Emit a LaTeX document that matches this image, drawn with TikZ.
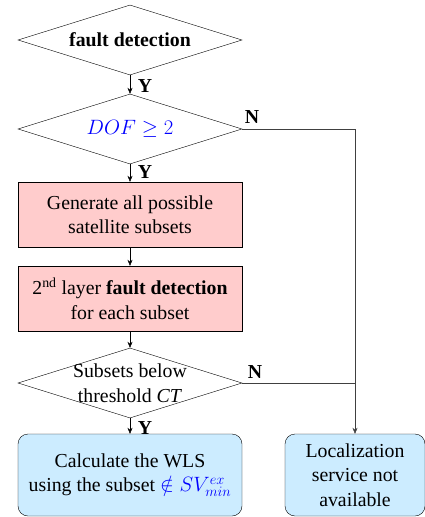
\documentclass[tikz,border=0pt]{standalone}
\usepackage{fontspec}
\setmainfont{Liberation Serif}
\usepackage{xcolor}
\usetikzlibrary{shapes.geometric,arrows.meta}
\definecolor{procfill}{RGB}{255,204,204}
\definecolor{termfill}{RGB}{204,236,255}
\definecolor{mathblue}{RGB}{0,0,255}
\begin{document}
\begin{tikzpicture}
  [x=1pt,y=-1pt,
   every node/.style={font=\fontsize{19.8}{24.5}\selectfont},
   decision/.style={diamond,draw,minimum width=224pt,minimum height=70pt,inner sep=0pt,aspect=3.2},
   process/.style={rectangle,draw,fill=procfill,minimum width=224pt,minimum height=65pt,inner sep=0pt,align=center},
   terminal/.style={rectangle,rounded corners=10pt,draw,fill=termfill,minimum height=82pt,inner sep=0pt,align=center},
   flow/.style={-{Stealth[length=6pt,width=5pt]}},
   nline/.style={draw=black!75}]
  \useasboundingbox (0,0) rectangle (425,517);

  \node (fd) [decision] at (130,40) {\textbf{fault detection}};
  \node (dof) [decision] at (130,129) {\textcolor{mathblue}{$DOF \geq 2$}};
  \node (gen) [process] at (130,214.5) {Generate all possible\\satellite subsets};
  \node (lay) [process] at (130,298.5) {2\textsuperscript{nd} layer \textbf{fault detection}\\for each subset};
  \node (sub) [decision] at (130,383) {};
  \node (subtxt) [align=center] at (sub) {Subsets below\\threshold \textit{CT}};
  \node (wls) [terminal,minimum width=224pt] at (130,475) {Calculate the WLS\\using the subset \textcolor{mathblue}{$\notin SV_{min}^{ex}$}};
  \node (na) [terminal,minimum width=140pt] at (355,475) {Localization\\service not\\available};

  \foreach \from/\to in {fd/dof,dof/gen,gen/lay,lay/sub,sub/wls}
    \draw[flow] (\from) -- (\to);

  \draw[flow,nline] (dof.east) -| (na.north);
  \draw[nline] (sub.east) -- (sub.east -| na.north);

  \node (y1) at (145,86) {\textbf{Y}};
  \node (y2) at (145,172) {\textbf{Y}};
  \node (y3) at (145,428) {\textbf{Y}};
  \node (n1) at (252,117) {\textbf{N}};
  \node (n2) at (255,372) {\textbf{N}};

\end{tikzpicture}
\end{document}
